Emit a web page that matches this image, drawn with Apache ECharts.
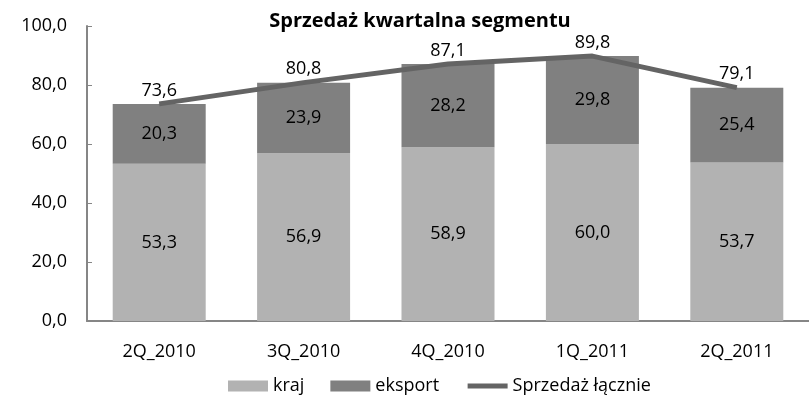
<!DOCTYPE html>
<html>
<head>
<meta charset="utf-8">
<script src="https://cdn.jsdelivr.net/npm/echarts@6/dist/echarts.min.js"></script>
<style>
  html, body { margin: 0; padding: 0; background: #fff; }
  #chart { width: 809px; height: 400px; }
</style>
</head>
<body>
<div id="chart"></div>
<script>
const categories = ["2Q_2010", "3Q_2010", "4Q_2010", "1Q_2011", "2Q_2011"];
const kraj = [53.3, 56.9, 58.9, 60.0, 53.7];
const eksport = [20.3, 23.9, 28.2, 29.8, 25.4];
const lacznie = [73.6, 80.8, 87.1, 89.8, 79.1];

const font = "Open Sans";
const fs = 18;
const fmt = (v) => v.toFixed(1).replace(".", ",");

const chart = echarts.init(document.getElementById("chart"));
chart.setOption({
  animation: false,
  textStyle: { fontFamily: font },
  title: {
    text: "Sprzedaż kwartalna segmentu",
    left: 415,
    top: 6,
    textAlign: "center",
    textStyle: { fontFamily: font, fontSize: 20, fontWeight: "bold", color: "#000" }
  },
  legend: {
    top: 377,
    left: 228,
    padding: 0,
    itemGap: 26,
    itemWidth: 40,
    itemHeight: 11,
    textStyle: { fontFamily: font, fontSize: fs, color: "#000" },
    data: [
      { name: "kraj", icon: "rect" },
      { name: "eksport", icon: "rect" },
      { name: "Sprzedaż łącznie", itemStyle: { opacity: 0 }, lineStyle: { width: 5, color: "#646464" } }
    ]
  },
  grid: { left: 87, top: 26, bottom: 79, width: 740 },
  xAxis: {
    type: "category",
    data: categories,
    axisLine: { lineStyle: { color: "#868686", width: 2 } },
    axisTick: { alignWithLabel: true, length: 5, lineStyle: { color: "#868686" } },
    axisLabel: { margin: 22, fontSize: fs, color: "#000", fontFamily: font }
  },
  yAxis: {
    type: "value",
    min: 0,
    max: 100,
    interval: 20,
    splitLine: { show: false },
    axisLine: { show: true, lineStyle: { color: "#868686", width: 2 } },
    axisTick: { show: true, inside: true, length: 5, lineStyle: { color: "#868686" } },
    axisLabel: { margin: 20, fontSize: fs, color: "#000", fontFamily: font, formatter: (v) => fmt(v) }
  },
  series: [
    {
      name: "kraj",
      type: "bar",
      stack: "s",
      barWidth: 93,
      data: kraj,
      itemStyle: { color: "#b2b2b2" },
      label: { show: true, position: "inside", fontSize: fs, color: "#000", fontFamily: font, formatter: (p) => fmt(p.value) }
    },
    {
      name: "eksport",
      type: "bar",
      stack: "s",
      barWidth: 93,
      data: eksport,
      itemStyle: { color: "#808080" },
      label: { show: true, position: "inside", fontSize: fs, color: "#000", fontFamily: font, formatter: (p) => fmt(p.value) }
    },
    {
      name: "Sprzedaż łącznie",
      type: "line",
      data: lacznie,
      symbol: "circle",
      symbolSize: 1,
      showSymbol: true,
      z: 3,
      lineStyle: { color: "#646464", width: 5 },
      itemStyle: { color: "#646464" },
      label: { show: true, position: "top", distance: 4, fontSize: fs, color: "#000", fontFamily: font, formatter: (p) => fmt(p.value) }
    }
  ]
});
</script>
</body>
</html>
